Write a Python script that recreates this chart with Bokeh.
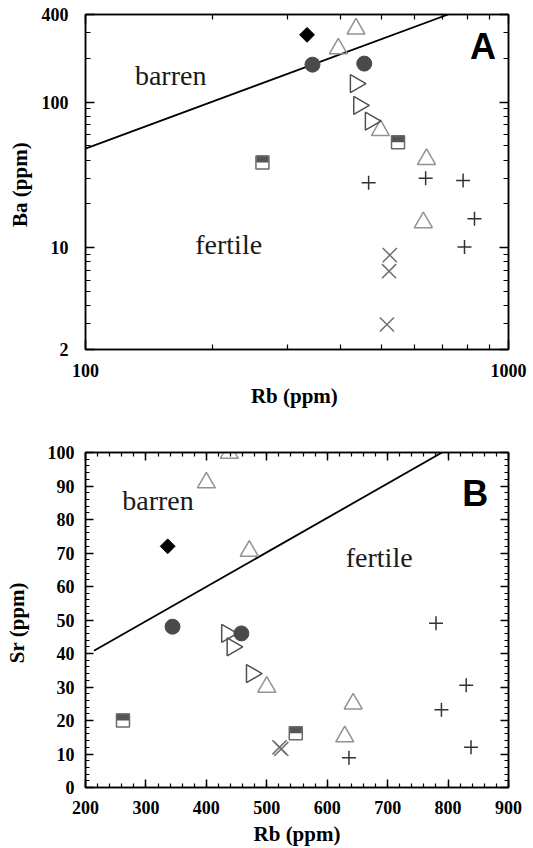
from bokeh.plotting import figure
from bokeh.layouts import column
from bokeh.models import FixedTicker, SingleIntervalTicker, LogAxis, LinearAxis, NumeralTickFormatter
from bokeh.core.properties import value
from bokeh.embed import file_html
from bokeh.resources import INLINE

# ---------------- Panel A: Ba vs Rb (log-log) ----------------
a_diamond_rb = [334]
a_diamond_ba = [290]
a_circle_rb = [344, 456]
a_circle_ba = [181, 184]
a_tri_rb = [436, 396, 498, 640, 629]
a_tri_ba = [319, 233, 64, 40.5, 14.9]
a_rtri_rb = [435, 443, 472]
a_rtri_ba = [134, 95, 74]
a_sq_rb = [262, 548]
a_sq_ba = [38.5, 53]
a_plus_rb = [467, 637, 781, 831, 787]
a_plus_ba = [28, 30, 29, 15.8, 10.1]
a_x_rb = [524, 522, 516]
a_x_ba = [8.9, 6.9, 2.97]
a_line_rb = [100, 720]
a_line_ba = [48, 400]

a_x_ticks = [100, 1000]
a_x_minor = [200, 300, 400, 500, 600, 700, 800, 900]
a_y_ticks = [2, 10, 100, 400]
a_y_minor = [3, 4, 5, 6, 7, 8, 9, 20, 30, 40, 50, 60, 70, 80, 90, 200, 300]

a_field_labels = ["barren", "fertile"]
a_field_rb = [159, 218]
a_field_ba = [153, 10.5]

# ---------------- Panel B: Sr vs Rb (linear) ----------------
b_diamond_rb = [336]
b_diamond_sr = [72]
b_circle_rb = [344, 458]
b_circle_sr = [48, 46]
b_tri_rb = [438, 400, 471, 500, 643, 629]
b_tri_sr = [99.8, 91, 70.6, 30, 25, 15.2]
b_rtri_rb = [434, 443, 475]
b_rtri_sr = [46, 42, 34]
b_sq_rb = [262, 548]
b_sq_sr = [20, 16.2]
b_x_rb = [521, 524]
b_x_sr = [12, 11.5]
b_plus_rb = [780, 830, 789, 838, 636]
b_plus_sr = [49, 30.5, 23.2, 12, 8.9]
b_line_rb = [214, 790]
b_line_sr = [40.8, 100]

b_field_labels = ["barren", "fertile"]
b_field_rb = [320, 686]
b_field_sr = [85.6, 68.6]

SERIF = "Liberation Serif"
SANS = "Liberation Sans"


def style_axis(ax, labelled):
    ax.axis_line_color = "black"
    ax.axis_line_width = 1.5
    ax.major_tick_in = 9
    ax.major_tick_out = 0
    ax.minor_tick_in = 5
    ax.minor_tick_out = 0
    ax.major_tick_line_color = "black"
    ax.major_tick_line_width = 1.5
    ax.minor_tick_line_color = "black"
    ax.minor_tick_line_width = 1.2
    if labelled:
        ax.major_label_text_font = SERIF
        ax.major_label_text_font_style = "bold"
        ax.major_label_text_font_size = "18px"
        ax.major_label_text_color = "black"
        ax.axis_label_text_font = SERIF
        ax.axis_label_text_font_style = "bold"
        ax.axis_label_text_font_size = "21px"
        ax.axis_label_text_color = "black"
    else:
        # mirror axis on the opposite side: ticks only
        ax.major_label_text_font_size = "1px"
        ax.major_label_text_alpha = 0
        ax.major_label_standoff = 0


def make_panel(height, top, frame_h, log, xr, yr):
    kw = dict(width=533, height=height, x_range=xr, y_range=yr,
              output_backend="svg", toolbar_location=None,
              min_border_left=85, min_border_right=25,
              min_border_top=top, min_border_bottom=height - top - frame_h,
              background_fill_color="white", border_fill_color="white")
    if log:
        kw.update(x_axis_type="log", y_axis_type="log")
    p = figure(**kw)
    p.grid.visible = False
    p.outline_line_color = "black"
    p.outline_line_width = 1.5
    return p


def draw_points(p, d):
    p.line(d["line_x"], d["line_y"], line_color="black", line_width=1.8)
    # half-filled squares: white body, dark upper half, grey outline
    p.scatter(d["sq_x"], d["sq_y"], marker="square", size=13,
              fill_color="white", line_color=None)
    p.text(x=d["sq_x"], y=d["sq_y"], text=[" "] * len(d["sq_x"]),
           text_font_size="1px", anchor="bottom_center", padding=(6, 3),
           background_fill_color="#555555", border_line_color=None)
    p.scatter(d["sq_x"], d["sq_y"], marker="square", size=13,
              fill_color=None, line_color="#6a6a6a", line_width=1.5)
    p.scatter(d["tri_x"], d["tri_y"], marker="triangle", size=18,
              fill_color=None, line_color="#929292", line_width=1.5)
    p.scatter(d["rtri_x"], d["rtri_y"], marker="triangle", size=18,
              angle=-90, angle_units="deg",
              fill_color=None, line_color="#505050", line_width=1.5)
    p.scatter(d["circ_x"], d["circ_y"], marker="circle", size=15,
              fill_color="#4a4a4a", line_color="#4a4a4a")
    p.scatter(d["dia_x"], d["dia_y"], marker="square", size=10.5,
              angle=45, angle_units="deg",
              fill_color="black", line_color="black")
    p.scatter(d["plus_x"], d["plus_y"], marker="cross", size=14,
              line_color="#333333", line_width=1.5)
    p.scatter(d["x_x"], d["x_y"], marker="x", size=20,
              line_color="#6e6e6e", line_width=1.5)


# ---------- Panel A ----------
pa = make_panel(410, 14, 336, True, (100, 1000), (2, 400))
x_tk_a = FixedTicker(ticks=a_x_ticks, minor_ticks=a_x_minor)
y_tk_a = FixedTicker(ticks=a_y_ticks, minor_ticks=a_y_minor)
pa.xaxis.ticker = x_tk_a
pa.yaxis.ticker = y_tk_a
pa.xaxis.formatter = NumeralTickFormatter(format="0")
pa.yaxis.formatter = NumeralTickFormatter(format="0")
pa.xaxis.axis_label = "Rb  (ppm)"
pa.yaxis.axis_label = "Ba  (ppm)"
style_axis(pa.xaxis[0], True)
style_axis(pa.yaxis[0], True)
pa.xaxis.major_label_standoff = 14
pa.xaxis.axis_label_standoff = 4
pa.yaxis.major_label_standoff = 17
pa.yaxis.axis_label_standoff = 7
top_a = LogAxis(ticker=x_tk_a)
right_a = LogAxis(ticker=y_tk_a)
style_axis(top_a, False)
style_axis(right_a, False)
pa.add_layout(top_a, "above")
pa.add_layout(right_a, "right")

draw_points(pa, dict(line_x=a_line_rb, line_y=a_line_ba,
                     sq_x=a_sq_rb, sq_y=a_sq_ba,
                     tri_x=a_tri_rb, tri_y=a_tri_ba,
                     rtri_x=a_rtri_rb, rtri_y=a_rtri_ba,
                     circ_x=a_circle_rb, circ_y=a_circle_ba,
                     dia_x=a_diamond_rb, dia_y=a_diamond_ba,
                     plus_x=a_plus_rb, plus_y=a_plus_ba,
                     x_x=a_x_rb, x_y=a_x_ba))

pa.text(x=a_field_rb, y=a_field_ba, text=a_field_labels,
        text_font=value(SERIF), text_font_size="28px",
        text_align="center", text_baseline="middle", text_color="#1a1a1a")
pa.text(x=[870], y=[241], text=["A"], text_font=value(SANS),
        text_font_style="bold", text_font_size="36px",
        text_align="center", text_baseline="middle", text_color="black")

# ---------- Panel B ----------
pb = make_panel(438, 42, 335, False, (200, 900), (0, 100))
x_tk_b = SingleIntervalTicker(interval=100, num_minor_ticks=5)
y_tk_b = SingleIntervalTicker(interval=10, num_minor_ticks=5)
pb.xaxis.ticker = x_tk_b
pb.yaxis.ticker = y_tk_b
pb.xaxis.axis_label = "Rb (ppm)"
pb.yaxis.axis_label = "Sr  (ppm)"
style_axis(pb.xaxis[0], True)
style_axis(pb.yaxis[0], True)
pb.xaxis.major_label_standoff = 13
pb.xaxis.axis_label_standoff = 5
pb.yaxis.major_label_standoff = 11
pb.yaxis.axis_label_standoff = 16
for ax in (pb.xaxis[0], pb.yaxis[0]):
    ax.major_tick_in = 8
    ax.minor_tick_in = 4
top_b = LinearAxis(ticker=x_tk_b)
right_b = LinearAxis(ticker=y_tk_b)
style_axis(top_b, False)
style_axis(right_b, False)
for ax in (top_b, right_b):
    ax.major_tick_in = 8
    ax.minor_tick_in = 4
pb.add_layout(top_b, "above")
pb.add_layout(right_b, "right")

draw_points(pb, dict(line_x=b_line_rb, line_y=b_line_sr,
                     sq_x=b_sq_rb, sq_y=b_sq_sr,
                     tri_x=b_tri_rb, tri_y=b_tri_sr,
                     rtri_x=b_rtri_rb, rtri_y=b_rtri_sr,
                     circ_x=b_circle_rb, circ_y=b_circle_sr,
                     dia_x=b_diamond_rb, dia_y=b_diamond_sr,
                     plus_x=b_plus_rb, plus_y=b_plus_sr,
                     x_x=b_x_rb, x_y=b_x_sr))

pb.text(x=b_field_rb, y=b_field_sr, text=b_field_labels,
        text_font=value(SERIF), text_font_size="28px",
        text_align="center", text_baseline="middle", text_color="#1a1a1a")
pb.text(x=[845], y=[87.8], text=["B"], text_font=value(SANS),
        text_font_style="bold", text_font_size="36px",
        text_align="center", text_baseline="middle", text_color="black")

layout = column(pa, pb, spacing=0)
open("out.html", "w").write(file_html(layout, INLINE))
